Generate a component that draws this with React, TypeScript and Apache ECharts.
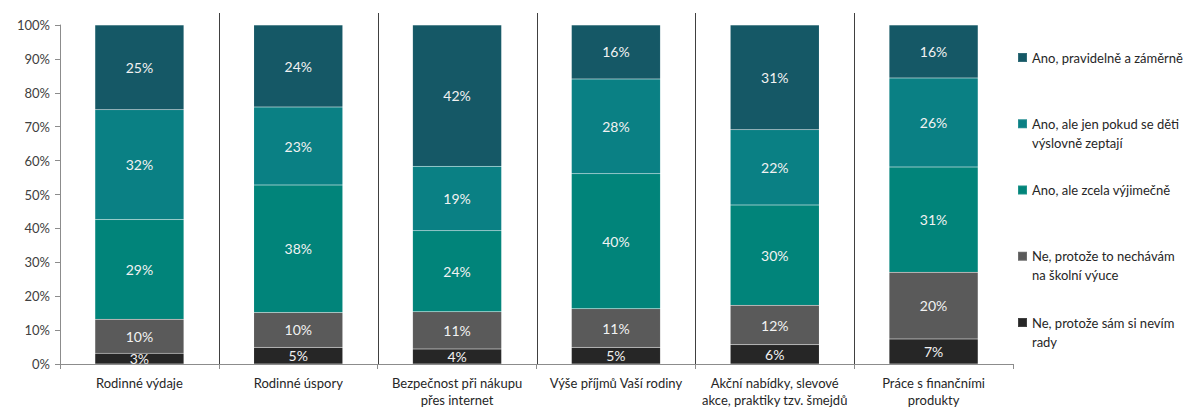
import React, { useEffect, useRef } from 'react';
import * as echarts from 'echarts';

const categories = [
  'Rodinné výdaje',
  'Rodinné úspory',
  'Bezpečnost při nákupu\npřes internet',
  'Výše příjmů Vaší rodiny',
  'Akční nabídky, slevové\nakce, praktiky tzv. šmejdů',
  'Práce s finančními\nprodukty',
];

// bottom -> top stacking order
const seriesNames = [
  'Ne, protože sám si nevím rady',
  'Ne, protože to nechávám na školní výuce',
  'Ano, ale zcela výjimečně',
  'Ano, ale jen pokud se děti výslovně zeptají',
  'Ano, pravidelně a záměrně',
];
const legendLines = [
  ['Ne, protože sám si nevím', 'rady'],
  ['Ne, protože to nechávám', 'na školní výuce'],
  ['Ano, ale zcela výjimečně'],
  ['Ano, ale jen pokud se děti', 'výslovně zeptají'],
  ['Ano, pravidelně a záměrně'],
];
const colors = ['#262626', '#5a5a5a', '#01847a', '#0a8084', '#155866'];

const neSam = [3.2, 4.9, 4.4, 4.9, 5.7, 7.4];
const neSkola = [10.0, 10.3, 11.0, 11.4, 11.6, 19.7];
const anoVyjimecne = [29.4, 37.6, 23.9, 39.8, 29.6, 31.0];
const anoPokud = [32.4, 23.0, 19.0, 28.0, 22.2, 26.3];
const anoPravidelne = [25.0, 24.2, 41.7, 15.9, 30.9, 15.6];
const seriesData = [neSam, neSkola, anoVyjimecne, anoPokud, anoPravidelne];

const FONT = 'Lato';

export default function App() {
  const ref = useRef<HTMLDivElement>(null);
  useEffect(() => {
    document.body.style.margin = '0';
    const chart = echarts.init(ref.current!, null, { renderer: 'svg' });

    const legendOrder = [4, 3, 2, 1, 0];
    const legends = legendOrder.map((si, i) => {
      const lines = legendLines[si];
      const twoLine = lines.length > 1;
      const center = 60.5 + i * 66.25;
      return {
        orient: 'vertical',
        left: 1017,
        top: twoLine ? center - 28.5 : center - 9.5,
        padding: 0,
        data: [seriesNames[si]],
        icon: 'rect',
        itemWidth: 9,
        itemHeight: 9,
        itemGap: 5,
        formatter: () =>
          twoLine ? '{e| }\n{a|' + lines[0] + '}\n{a|' + lines[1] + '}' : '{a|' + lines[0] + '}',
        textStyle: {
          fontFamily: FONT,
          fontSize: 13,
          color: '#262626',
          rich: {
            a: { fontFamily: FONT, fontSize: 13, color: '#262626', lineHeight: 19 },
            e: { fontFamily: FONT, fontSize: 13, lineHeight: 19 },
          },
        },
        selectedMode: false,
      };
    });

    chart.setOption({
      animation: false,
      textStyle: { fontFamily: FONT },
      grid: { left: 60, right: 174, top: 25, bottom: 43, containLabel: false },
      legend: legends,
      xAxis: {
        type: 'category',
        data: categories,
        axisLine: { lineStyle: { color: '#8c8c8c', width: 1 } },
        axisTick: { show: true, interval: 0, length: 5, lineStyle: { color: '#8c8c8c' } },
        axisLabel: {
          interval: 0,
          fontFamily: FONT,
          fontSize: 13,
          color: '#262626',
          lineHeight: 17,
          margin: 10,
        },
        splitLine: { show: false },
      },
      yAxis: {
        type: 'value',
        min: 0,
        max: 100,
        interval: 10,
        axisLine: { show: true, lineStyle: { color: '#8c8c8c', width: 1 } },
        axisTick: { show: true, length: 5, lineStyle: { color: '#8c8c8c' } },
        axisLabel: {
          formatter: '{value}%',
          fontFamily: FONT,
          fontSize: 13,
          color: '#404040',
          margin: 10,
        },
        splitLine: { show: false },
      },
      series: seriesData.map((d, i) => ({
        name: seriesNames[i],
        type: 'bar',
        stack: 'total',
        data: d,
        barWidth: '56%',
        itemStyle: { color: colors[i], borderColor: 'rgba(255,255,255,0.12)', borderWidth: 0.5 },
        label: {
          show: true,
          position: 'inside',
          formatter: (p: any) => Math.round(p.value) + '%',
          fontFamily: FONT,
          fontSize: 14,
          color: '#f2f2f2',
        },
      })),
    });

    // category separators
    const yTop = (chart.convertToPixel({ yAxisIndex: 0 }, 100) as number) - 12;
    const yBot = chart.convertToPixel({ yAxisIndex: 0 }, 0) as number;
    const sep: any[] = [];
    for (let i = 1; i < categories.length; i++) {
      const a = chart.convertToPixel({ xAxisIndex: 0 }, i - 1) as number;
      const b = chart.convertToPixel({ xAxisIndex: 0 }, i) as number;
      const x = Math.round((a + b) / 2) + 0.5;
      sep.push({
        type: 'line',
        shape: { x1: x, y1: yTop, x2: x, y2: yBot },
        style: { stroke: '#404040', lineWidth: 1 },
        silent: true,
      });
    }
    chart.setOption({ graphic: sep });

    return () => chart.dispose();
  }, []);
  return <div ref={ref} style={{ width: 1187, height: 408 }} />;
}
